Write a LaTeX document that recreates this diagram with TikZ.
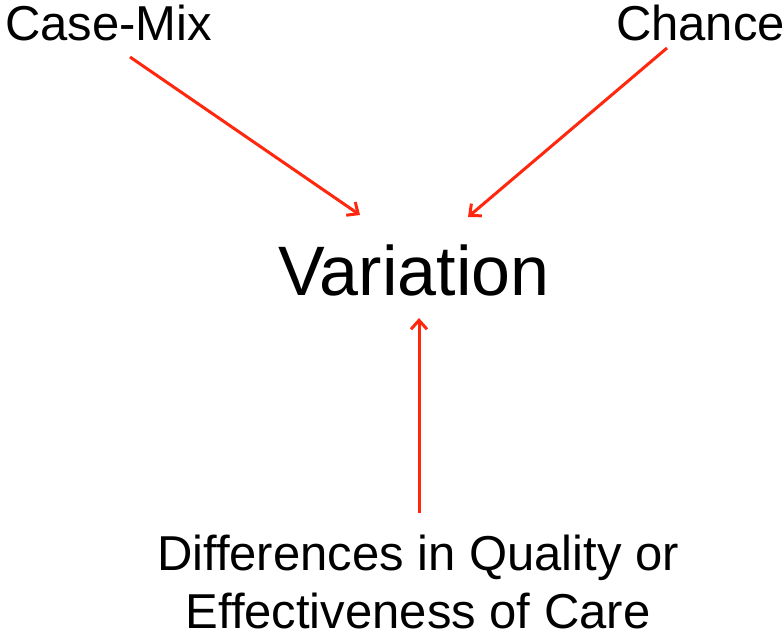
\documentclass[tikz,border=0pt]{standalone}
\usepackage{fontspec}
\setmainfont{Liberation Sans}
\usetikzlibrary{arrows.meta}
\definecolor{arrred}{RGB}{255,40,15}
\begin{document}
\begin{tikzpicture}[x=1pt,y=-1pt,
  lbl/.style={inner sep=0pt,font=\fontsize{49}{58}\selectfont},
  big/.style={inner sep=0pt,font=\fontsize{70}{80}\selectfont},
  arr/.style={draw=arrred,line width=3pt,-{Straight Barb[length=9pt,width=16pt,line width=3pt]}}]
\useasboundingbox (0,0) rectangle (784,633);
\node[lbl,anchor=base] (casemix) at (108.5,40) {Case-Mix};
\node[lbl,anchor=base] (chance) at (700.5,40) {Chance};
\node[big,anchor=base] (variation) at (414,295) {Variation};
\node[lbl,anchor=base,align=center] (diff) at (418,628) {Differences in Quality or\\Effectiveness of Care};
\coordinate (cmout) at (130,57);
\coordinate (cmin) at (360,215);
\coordinate (chout) at (667,48);
\coordinate (chin) at (468,217);
\coordinate (dfout) at (419,513);
\coordinate (dfin) at (419,318);
\draw[arr] (cmout) -- (cmin);
\draw[arr] (chout) -- (chin);
\draw[arr] (dfout) -- (dfin);
\end{tikzpicture}
\end{document}
